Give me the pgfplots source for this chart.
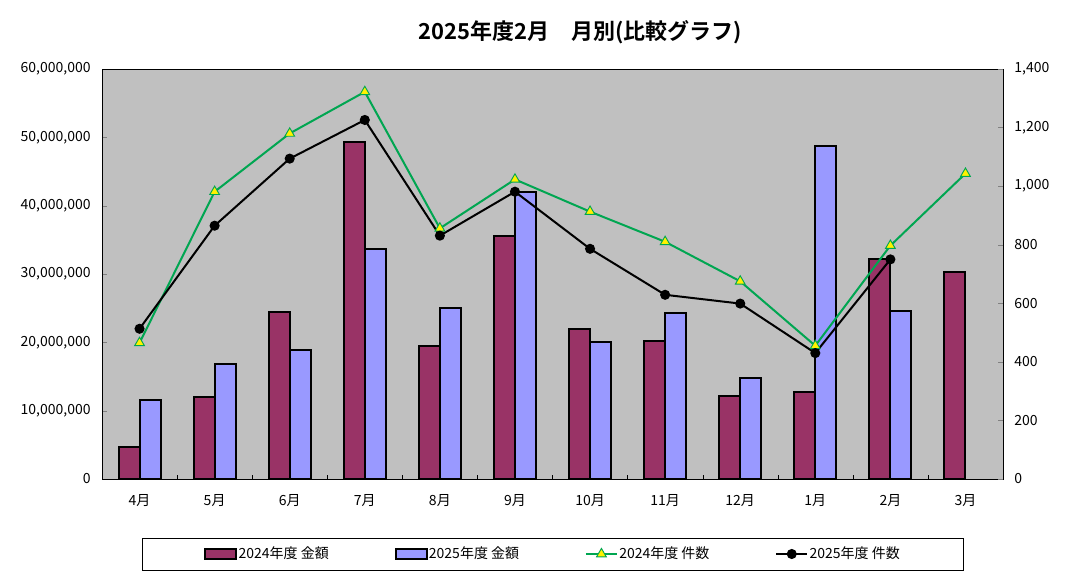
\documentclass[border=0pt]{standalone}
\usepackage{fontspec}
\setmainfont{Noto Sans CJK JP}[BoldFont={Noto Sans CJK JP Bold}]
\usepackage{pgfplots}
\pgfplotsset{compat=1.18}
\definecolor{bar24}{HTML}{993366}
\definecolor{bar25}{HTML}{9999FF}
\definecolor{plotbg}{HTML}{C0C0C0}
\definecolor{lgreen}{HTML}{00A651}
\pgfplotsset{
  mybarlegend/.style={legend image code/.code={\draw[##1] (0pt,-3.75pt) rectangle (23.25pt,3.75pt);}},
  mylinelegend/.style={legend image code/.code={\draw[mark repeat=2,mark phase=2,##1] plot coordinates {(0pt,0pt) (11.625pt,0pt) (23.25pt,0pt)};}},
}
\begin{document}
\begin{tikzpicture}
\path[use as bounding box] (0,0) rectangle (813pt,440.25pt);
\node[font=\bfseries\fontsize{16.5}{20}\selectfont] at (435pt,416.25pt) {2025年度2月　月別(比較グラフ)};
\begin{axis}[
  at={(76.5pt,81pt)}, anchor=south west,
  scale only axis, width=675.75pt, height=307.5pt,
  font=\fontsize{10.5}{12}\selectfont,
  xmin=-0.5, xmax=11.5, ymin=0, ymax=60000000,
  axis background/.style={fill=plotbg},
  x axis line style={draw=black!55, line width=0.75pt},
  y axis line style={draw=black, line width=0.75pt},
  xtick={0,...,11},
  xticklabels={4月,5月,6月,7月,8月,9月,10月,11月,12月,1月,2月,3月},
  major x tick style={draw=none},
  minor xtick={0.5,1.5,...,10.5},
  minor x tick style={black},
  minor tick length=3pt,
  xtick pos=bottom,
  xticklabel style={yshift=-8pt},
  ytick={0,10000000,20000000,30000000,40000000,50000000,60000000},
  ytick pos=left,
  tick align=inside,
  major tick length=3.75pt,
  scaled y ticks=false,
  yticklabel style={xshift=-5pt, /pgf/number format/.cd, fixed, 1000 sep={,}, assume math mode=true},
]
\addplot[ybar, bar width=15.75pt, bar shift=-7.875pt, fill=bar24, draw=black, line width=1.5pt] coordinates {
(0,4730000) (1,12050000) (2,24440000) (3,49370000) (4,19500000) (5,35600000)
(6,22000000) (7,20200000) (8,12150000) (9,12730000) (10,32200000) (11,30340000)};
\addplot[ybar, bar width=15.75pt, bar shift=7.875pt, fill=bar25, draw=black, line width=1.5pt] coordinates {
(0,11560000) (1,16900000) (2,18880000) (3,33660000) (4,25070000) (5,42000000)
(6,20050000) (7,24300000) (8,14780000) (9,48730000) (10,24600000)};
\end{axis}
\begin{axis}[
  at={(76.5pt,81pt)}, anchor=south west,
  scale only axis, width=675.75pt, height=307.5pt,
  font=\fontsize{10.5}{12}\selectfont,
  xmin=-0.5, xmax=11.5, ymin=0, ymax=1400,
  axis x line=none,
  axis y line*=right,
  y axis line style={draw=black, line width=0.75pt, -},
  ytick={0,200,...,1400},
  tick align=inside,
  major tick length=3.75pt,
  yticklabel style={xshift=5pt, /pgf/number format/.cd, fixed, 1000 sep={,}, assume math mode=true},
  legend columns=4,
  legend style={at={(0.1132,-0.1829)}, anchor=west, draw=none, fill=none, inner sep=0pt,
    nodes={inner xsep=1pt, inner ysep=0pt}, font=\fontsize{10.5}{12}\selectfont},
]
\addlegendimage{mybarlegend, fill=bar24, draw=black, line width=1.5pt}
\addlegendentry{\makebox[116pt][l]{2024年度 金額}}
\addlegendimage{mybarlegend, fill=bar25, draw=black, line width=1.5pt}
\addlegendentry{\makebox[116pt][l]{2025年度 金額}}
\addplot[mylinelegend, lgreen, line width=1.5pt, mark=triangle*, mark size=4.2pt, mark options={fill=yellow, draw=lgreen, line width=0.7pt}] coordinates {
(0,465) (1,981) (2,1180) (3,1322) (4,856) (5,1023) (6,913) (7,810) (8,675) (9,455) (10,797) (11,1043)};
\addlegendentry{\makebox[116pt][l]{2024年度 件数}}
\addplot[mylinelegend, black, line width=1.5pt, mark=*, mark size=3pt] coordinates {
(0,513) (1,865) (2,1094) (3,1226) (4,831) (5,981) (6,786) (7,629) (8,599) (9,430) (10,750)};
\addlegendentry{2025年度 件数}
\end{axis}
\draw[black, line width=0.75pt] (106.5pt,12.75pt) rectangle (722.25pt,36.75pt);
\end{tikzpicture}
\end{document}
